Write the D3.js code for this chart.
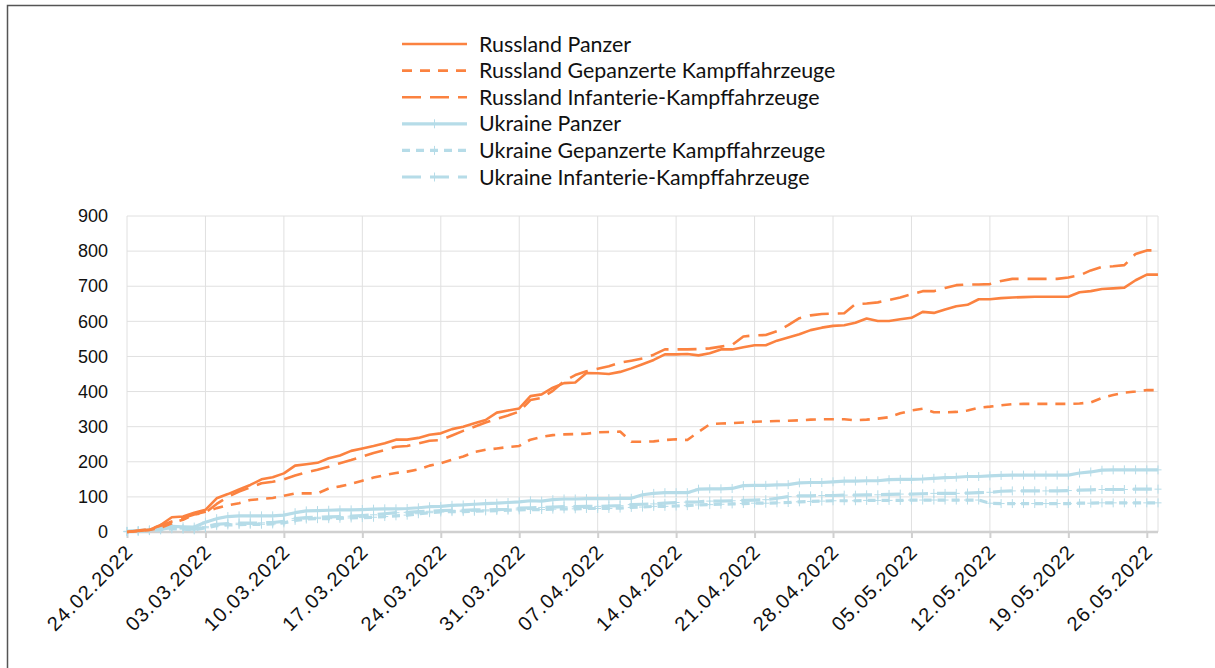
<!DOCTYPE html>
<html>
<head>
<meta charset="utf-8">
<script src="https://cdn.jsdelivr.net/npm/d3@7"></script>
<style>
    body { margin: 0; background: #fff; }
    svg { display: block; font-family: Lato, "Open Sans", sans-serif; }
    .grid line { stroke: #e0e0e0; stroke-width: 1; }
    .axis text { fill: #111; font-size: 18px; }
    .x-axis text { font-size: 20px; letter-spacing: 1.2px; }
    .legend text { fill: #111; font-size: 21.4px; }
</style>
</head>
<body>
<div id="chart"></div>
<script>
// Zeitraum und Achsenbeschriftung
const startDate = '24.02.2022';
const endDate = '27.05.2022';
const tickLabels = ['24.02.2022', '03.03.2022', '10.03.2022', '17.03.2022', '24.03.2022', '31.03.2022', '07.04.2022',
    '14.04.2022', '21.04.2022', '28.04.2022', '05.05.2022', '12.05.2022', '19.05.2022', '26.05.2022'];
const yTicks = [0, 100, 200, 300, 400, 500, 600, 700, 800, 900];

// Kumulierte Verluste, ein Wert pro Tag (24.02. - 27.05.2022)
const russlandPanzer = [0, 3, 6, 20, 42, 44, 55, 63, 96, 108, 121, 134, 150, 156, 167, 189, 193, 197, 210, 218,
    231, 238, 245, 253, 263, 263, 268, 277, 281, 293, 300, 310, 319, 340, 346, 352, 387, 392, 411, 424,
    426, 453, 452, 450, 456, 466, 478, 490, 506, 506, 507, 503, 509, 520, 520, 526, 532, 532, 545, 554,
    563, 575, 582, 587, 589, 596, 608, 601, 601, 606, 610, 627, 624, 634, 643, 647, 663, 663, 666, 668,
    669, 670, 670, 670, 670, 683, 686, 692, 694, 696, 717, 733, 733];
const russlandGepanzert = [0, 3, 6, 12, 25, 35, 50, 58, 68, 76, 82, 91, 94, 97, 103, 110, 110, 110, 124, 130,
    137, 146, 155, 162, 168, 172, 178, 189, 196, 206, 215, 228, 234, 238, 242, 245, 263, 271, 276, 278,
    279, 280, 284, 285, 286, 257, 257, 258, 262, 264, 262, 285, 307, 309, 310, 312, 314, 315, 316, 317,
    318, 320, 321, 321, 321, 318, 320, 323, 327, 338, 346, 351, 341, 341, 342, 346, 354, 357, 361, 364,
    365, 365, 365, 365, 365, 366, 369, 382, 390, 397, 400, 404, 404];
const russlandInfanterie = [0, 4, 8, 18, 30, 40, 50, 55, 80, 100, 115, 127, 139, 143, 150, 161, 170, 177, 186, 196,
    205, 215, 225, 233, 243, 245, 252, 260, 262, 275, 288, 300, 312, 322, 332, 343, 376, 382, 402, 430,
    447, 458, 465, 472, 482, 488, 494, 505, 520, 520, 520, 521, 523, 528, 533, 557, 560, 561, 572, 589,
    609, 617, 621, 622, 623, 649, 651, 654, 661, 668, 677, 686, 686, 695, 703, 705, 705, 706, 715, 721,
    721, 721, 721, 721, 725, 731, 745, 755, 757, 760, 792, 802, 802];
const ukrainePanzer = [2, 4, 6, 12, 16, 15, 14, 28, 38, 44, 46, 46, 46, 46, 48, 55, 60, 61, 62, 63,
    63, 64, 65, 66, 66, 67, 69, 72, 73, 76, 77, 79, 81, 82, 84, 86, 89, 88, 92, 94,
    94, 95, 95, 95, 96, 96, 106, 110, 112, 112, 112, 122, 123, 123, 124, 132, 133, 133, 134, 135,
    140, 141, 141, 143, 145, 145, 146, 146, 149, 150, 150, 151, 153, 155, 156, 158, 158, 160, 161, 162,
    162, 162, 162, 162, 162, 168, 171, 176, 177, 177, 177, 177, 177];
const ukraineGepanzert = [1, 2, 4, 6, 9, 8, 6, 12, 18, 20, 21, 22, 22, 23, 26, 33, 37, 38, 38, 39,
    40, 41, 42, 44, 46, 48, 52, 55, 57, 58, 58, 59, 60, 61, 62, 63, 64, 64, 65, 66,
    66, 67, 67, 67, 68, 70, 71, 73, 73, 74, 75, 77, 78, 79, 80, 81, 82, 82, 83, 84,
    86, 87, 88, 89, 89, 89, 90, 90, 90, 90, 91, 91, 91, 91, 91, 91, 91, 82, 81, 81,
    81, 81, 81, 81, 81, 82, 82, 83, 83, 83, 83, 83, 83];
const ukraineInfanterie = [1, 3, 5, 8, 12, 10, 8, 15, 22, 24, 25, 25, 26, 27, 30, 38, 41, 42, 43, 44,
    45, 47, 49, 52, 55, 56, 58, 59, 61, 62, 62, 63, 63, 64, 65, 68, 69, 70, 71, 72,
    72, 73, 73, 74, 75, 78, 79, 80, 82, 84, 85, 86, 88, 88, 89, 90, 91, 92, 96, 101,
    103, 103, 104, 104, 105, 105, 106, 106, 107, 108, 108, 109, 110, 110, 110, 111, 112, 113, 116, 117,
    117, 117, 117, 117, 118, 119, 120, 121, 121, 121, 122, 122, 122];

const seriesNames = ['Russland Panzer', 'Russland Gepanzerte Kampffahrzeuge', 'Russland Infanterie-Kampffahrzeuge',
    'Ukraine Panzer', 'Ukraine Gepanzerte Kampffahrzeuge', 'Ukraine Infanterie-Kampffahrzeuge'];
const seriesValues = [russlandPanzer, russlandGepanzert, russlandInfanterie, ukrainePanzer, ukraineGepanzert, ukraineInfanterie];

const orange = '#fb8240';
const lightBlue = '#b6dce8';
const styles = [
    { color: orange, dash: null, width: 2.6, marker: false },
    { color: orange, dash: '10,8', width: 2.6, marker: false },
    { color: orange, dash: '19,9', width: 2.6, marker: false },
    { color: lightBlue, dash: null, width: 3.2, marker: true },
    { color: lightBlue, dash: '8,6', width: 3.2, marker: true },
    { color: lightBlue, dash: '19,9', width: 3.2, marker: true },
];

const width = 1215, height = 668;
const margin = { top: 216, right: 57, bottom: 136, left: 127 };
const parse = d3.timeParse('%d.%m.%Y');
const days = d3.timeDay.range(parse(startDate), d3.timeDay.offset(parse(endDate), 1));

const svg = d3.select('#chart').append('svg')
    .attr('width', width)
    .attr('height', height);

// Rahmen (nur links und oben sichtbar)
svg.append('rect')
    .attr('x', 7.5).attr('y', 5.5)
    .attr('width', width + 20).attr('height', height + 20)
    .attr('fill', 'none')
    .attr('stroke', '#555')
    .attr('stroke-width', 1.5);

const x = d3.scaleTime()
    .domain([days[0], days[days.length - 1]])
    .range([margin.left, width - margin.right]);
const y = d3.scaleLinear()
    .domain([0, 900])
    .range([height - margin.bottom, margin.top]);

const tickDates = tickLabels.map(parse);

// Gitterlinien
const grid = svg.append('g').attr('class', 'grid');
grid.selectAll('.h').data(yTicks.slice(1)).join('line')
    .attr('x1', margin.left).attr('x2', width - margin.right)
    .attr('y1', d => y(d)).attr('y2', d => y(d));
grid.selectAll('.v').data(tickDates).join('line')
    .attr('x1', d => x(d)).attr('x2', d => x(d))
    .attr('y1', margin.top).attr('y2', y(0));
grid.append('line')
    .attr('x1', width - margin.right).attr('x2', width - margin.right)
    .attr('y1', margin.top).attr('y2', y(0));

// Achsen
const xAxis = d3.axisBottom(x)
    .tickValues(tickDates)
    .tickFormat(d3.timeFormat('%d.%m.%Y'))
    .tickSize(6)
    .tickSizeOuter(0);
const xAxisG = svg.append('g')
    .attr('class', 'axis x-axis')
    .attr('transform', `translate(0, ${y(0)})`)
    .call(xAxis);
xAxisG.select('.domain')
    .attr('d', `M${margin.left},0H${width - margin.right}`)
    .attr('stroke', '#d0d0d0').attr('stroke-width', 2.5);
xAxisG.selectAll('.tick line').attr('stroke', '#d0d0d0').attr('stroke-width', 2);
xAxisG.selectAll('.tick text')
    .attr('text-anchor', 'end')
    .attr('dy', null)
    .attr('y', 0)
    .attr('transform', 'translate(7, 21) rotate(-45)');

const yAxis = d3.axisLeft(y).tickValues(yTicks).tickSize(0);
const yAxisG = svg.append('g')
    .attr('class', 'axis y-axis')
    .attr('transform', `translate(${margin.left}, 0)`)
    .call(yAxis);
yAxisG.select('.domain').remove();
yAxisG.selectAll('.tick text').attr('x', -19);

// Linien
const line = d3.line()
    .x((d, i) => x(days[i]))
    .y(d => y(d));

const plusPath = 'M-3.5,0H3.5M0,-4.5V4.5';
const order = [3, 4, 5, 0, 1, 2];
order.forEach(k => {
    const s = styles[k];
    const g = svg.append('g').attr('class', 'series');
    g.append('path')
        .datum(seriesValues[k])
        .attr('fill', 'none')
        .attr('stroke', s.color)
        .attr('stroke-width', s.width)
        .attr('stroke-dasharray', s.dash)
        .attr('stroke-linejoin', 'round')
        .attr('d', line);
    if (s.marker) {
        g.selectAll('path.marker').data(seriesValues[k]).join('path')
            .attr('class', 'marker')
            .attr('transform', (d, i) => `translate(${x(days[i])}, ${y(d)})`)
            .attr('d', plusPath)
            .attr('stroke', s.color)
            .attr('stroke-width', 1);
    }
});

// Legende
const legend = svg.append('g').attr('class', 'legend');
const rows = legend.selectAll('g').data(seriesNames).join('g')
    .attr('transform', (d, i) => `translate(402, ${44 + i * 26.6})`);
rows.append('line')
    .attr('x1', 0).attr('x2', 65)
    .attr('stroke', (d, i) => styles[i].color)
    .attr('stroke-width', (d, i) => styles[i].width)
    .attr('stroke-dasharray', (d, i) => styles[i].dash);
rows.filter((d, i) => styles[i].marker).append('path')
    .attr('transform', 'translate(32.5, 0)')
    .attr('d', plusPath)
    .attr('stroke', lightBlue)
    .attr('stroke-width', 1);
rows.append('text')
    .attr('x', 77)
    .attr('dy', '0.35em')
    .text(d => d);
</script>
</body>
</html>
